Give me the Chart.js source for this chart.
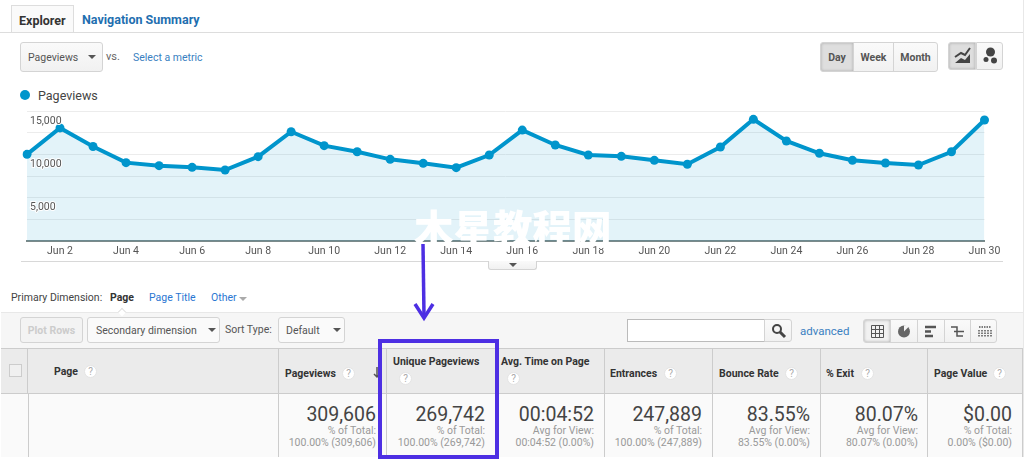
<!DOCTYPE html>
<html>
<head>
<meta charset="utf-8">
<script src="https://cdn.jsdelivr.net/npm/chart.js@4/dist/chart.umd.min.js"></script>
<style>
html, body { margin: 0; padding: 0; background: #fff; }
body { width: 1024px; height: 466px; overflow: hidden; position: relative; font-family: Roboto, Arial, sans-serif; color: #444; }
#page > * { position: absolute; box-sizing: border-box; white-space: nowrap; }
#chart { left: 0; top: 0; }
.link { color: #3a7fc1; }
.tab { font-size: 12.5px; font-weight: 700; }
.btn { background: linear-gradient(#fafafa, #f1f1f1); border: 1px solid #d4d4d4; border-radius: 3px; font-size: 10.5px; color: #555; display: flex; align-items: center; }
.on { background: #dedede; box-shadow: inset 0 0 3px #aaa; }
.caret { display: inline-block; border-left: 4px solid transparent; border-right: 4px solid transparent; border-top: 4px solid #555; }
.head { background: #ebebeb; top: 348px; height: 46px; border: 1px solid #ccc; border-left: 0; }
.body { background: #fafafa; top: 394px; height: 63px; border-right: 1px solid #ccc; }
.th { font-size: 10.5px; font-weight: 700; color: #333; }
.q { width: 13px; height: 13px; border-radius: 50%; background: #fff; border: 1px solid #e4e4e4; color: #aaa; font-size: 10px; text-align: center; line-height: 12px; }
.big { font-size: 19.5px; color: #444; text-align: right; width: 110px; }
.sub { font-size: 10.5px; color: #999; text-align: right; width: 110px; line-height: 12px; }
</style>
</head>
<body>
<div id="page">
  <div class="tab" style="left:11px;top:5px;width:63px;height:28px;border:1px solid #ddd;border-bottom:0;background:#fafafa;padding:7px 0 0 7px;color:#333">Explorer</div>
  <div class="tab" style="left:82px;top:12px;color:#1f6fb0">Navigation Summary</div>
  <div style="left:0;top:32px;width:1023px;height:1px;background:#ddd"></div>
  <div style="left:1023px;top:0;width:1px;height:457px;background:#e8e8e8"></div>

  <div class="btn" style="left:20px;top:42px;width:83px;height:30px;padding-left:7px">Pageviews<span class="caret" style="margin-left:10px"></span></div>
  <div style="left:106px;top:50px;font-size:11px;color:#666">vs.</div>
  <div class="link" style="left:133px;top:51px;font-size:10.5px">Select a metric</div>

  <div class="btn on" style="left:820px;top:42px;width:34px;height:30px;justify-content:center;font-weight:700;border-radius:3px 0 0 3px">Day</div>
  <div class="btn" style="left:853px;top:42px;width:41px;height:30px;justify-content:center;font-weight:700;border-radius:0">Week</div>
  <div class="btn" style="left:893px;top:42px;width:45px;height:30px;justify-content:center;font-weight:700;border-radius:0 3px 3px 0">Month</div>
  <div class="btn on" style="left:948px;top:42px;width:28px;height:28px;border-radius:3px 0 0 3px"></div>
  <div class="btn" style="left:976px;top:42px;width:27px;height:28px;border-radius:0 3px 3px 0"></div>
  <svg style="left:954px;top:47px" width="50" height="20" fill="#444">
    <path d="M1 10 L7 6 L11 8 L16 1" fill="none" stroke="#444" stroke-width="2"/>
    <path d="M1 16 L7 11 L11 13 L16 7 L16 16Z"/>
    <circle cx="32" cy="12.500" r="2.500"/><circle cx="36.500" cy="5" r="4.500"/><circle cx="40" cy="13.500" r="3"/>
  </svg>

  <div style="left:20px;top:90px;width:10px;height:10px;border-radius:50%;background:#0095cc"></div>
  <div style="left:38px;top:88px;font-size:12.500px;color:#444">Pageviews</div>

  <canvas id="chart"></canvas>

  <div style="left:21px;top:261px;width:982px;height:1px;background:#d8d8d8"></div>
  <div class="btn" style="left:488px;top:261px;width:49px;height:9px;justify-content:center;border-top:0;border-radius:0 0 3px 3px"><span class="caret"></span></div>

  <div style="left:11px;top:291px;font-size:10.500px;color:#444">Primary Dimension:</div>
  <div style="left:110px;top:291px;font-size:10.500px;font-weight:700;color:#333">Page</div>
  <div class="link" style="left:149px;top:291px;font-size:10.500px;color:#2a76d2">Page Title</div>
  <div class="link" style="left:211px;top:291px;font-size:10.500px;color:#2a76d2">Other</div>
  <span class="caret" style="left:239px;top:297px;border-top-color:#aaa"></span>

  <div style="left:1px;top:312px;width:1022px;height:36px;background:#f6f6f6;border-top:1px solid #e8e8e8"></div>
  <div style="left:119px;top:309px;width:6px;height:6px;background:#fff;border:1px solid #e0e0e0;border-right:0;border-bottom:0;transform:rotate(45deg)"></div>
  <div class="btn" style="left:20px;top:317px;width:63px;height:26px;justify-content:center;color:#ccc;background:#f3f3f3;font-weight:700">Plot Rows</div>
  <div class="btn" style="left:87px;top:317px;width:133px;height:26px;padding-left:8px;background:#fafafa">Secondary dimension<span class="caret" style="margin-left:11px"></span></div>
  <div style="left:225px;top:323px;font-size:10.500px;color:#555">Sort Type:</div>
  <div class="btn" style="left:278px;top:317px;width:67px;height:26px;padding-left:7px;background:#fafafa">Default<span class="caret" style="margin-left:13px"></span></div>
  <div style="left:627px;top:319px;width:138px;height:23px;background:#fff;border:1px solid #bbb"></div>
  <div class="btn" style="left:764px;top:319px;width:28px;height:23px;border-radius:0 3px 3px 0"></div>
  <svg style="left:771px;top:323px" width="16" height="16" fill="none" stroke="#444" stroke-width="2"><circle cx="6" cy="6" r="4"/><path d="M9 9 L14 14" stroke-width="3"/></svg>
  <div class="link" style="left:800px;top:324px;font-size:11.500px">advanced</div>
  <div class="btn on" style="left:863px;top:319px;width:28px;height:24px;border-radius:3px 0 0 3px;background:#f1f1f1"></div>
  <div class="btn" style="left:890px;top:319px;width:28px;height:24px;border-radius:0"></div>
  <div class="btn" style="left:917px;top:319px;width:28px;height:24px;border-radius:0"></div>
  <div class="btn" style="left:944px;top:319px;width:27px;height:24px;border-radius:0"></div>
  <div class="btn" style="left:970px;top:319px;width:27px;height:24px;border-radius:0 3px 3px 0"></div>
  <svg style="left:863px;top:319px" width="134" height="24" fill="none" stroke="#555">
    <path d="M8.500 6.500h12v12h-12zM12.500 6.500v12M16.500 6.500v12M8.500 10.500h12M8.500 14.500h12"/>
    <circle cx="41" cy="12.500" r="6" fill="#666" stroke="none"/><path d="M41 12.500V6.500h6z" fill="#f5f5f5" stroke="none"/>
    <path d="M62 8h11M62 12.500h6M62 17h8" stroke-width="2.500"/>
    <path d="M88 8h6v9h6M91 12.500h10" stroke-width="1.500"/>
    <path d="M116 8h12M116 11v7M119 11v7M122 11v7M125 11v7M128 11v7" stroke-dasharray="1.500 1" stroke-width="1.500"/>
  </svg>

  <div class="head" style="left:1px;width:27px"></div>
  <div class="head" style="left:28px;width:251px"></div>
  <div class="head" style="left:279px;width:108px"></div>
  <div class="head" style="left:387px;width:109px"></div>
  <div class="head" style="left:496px;width:109px"></div>
  <div class="head" style="left:605px;width:108px"></div>
  <div class="head" style="left:713px;width:108px"></div>
  <div class="head" style="left:821px;width:107px"></div>
  <div class="head" style="left:928px;width:95px"></div>
  <div class="body" style="left:1px;width:28px"></div>
  <div class="body" style="left:29px;width:250px"></div>
  <div class="body" style="left:279px;width:108px"></div>
  <div class="body" style="left:387px;width:109px"></div>
  <div class="body" style="left:496px;width:109px"></div>
  <div class="body" style="left:605px;width:108px"></div>
  <div class="body" style="left:713px;width:108px"></div>
  <div class="body" style="left:821px;width:107px"></div>
  <div class="body" style="left:928px;width:95px"></div>
  <div style="left:9px;top:364px;width:13px;height:13px;background:#f0f0f0;border:1px solid #ccc"></div>

  <div class="th" style="left:54px;top:365px">Page</div><div class="q" style="left:84px;top:365px">?</div>
  <div class="th" style="left:285px;top:367px">Pageviews</div><div class="q" style="left:342px;top:367px">?</div>
  <svg style="left:372px;top:366px" width="10" height="14" fill="none" stroke="#555" stroke-width="1.500"><path d="M5 1v10M2 8l3 3 3-3"/></svg>
  <div class="th" style="left:393px;top:355px">Unique Pageviews</div><div class="q" style="left:399px;top:372px">?</div>
  <div class="th" style="left:501px;top:355px">Avg. Time on Page</div><div class="q" style="left:507px;top:372px">?</div>
  <div class="th" style="left:610px;top:367px">Entrances</div><div class="q" style="left:664px;top:367px">?</div>
  <div class="th" style="left:719px;top:367px">Bounce Rate</div><div class="q" style="left:785px;top:367px">?</div>
  <div class="th" style="left:826px;top:367px">% Exit</div><div class="q" style="left:861px;top:367px">?</div>
  <div class="th" style="left:934px;top:367px">Page Value</div><div class="q" style="left:993px;top:367px">?</div>

  <div class="big" style="left:266px;top:403px">309,606</div>
  <div class="sub" style="left:266px;top:425px">% of Total:<br>100.00% (309,606)</div>
  <div class="big" style="left:375px;top:403px">269,742</div>
  <div class="sub" style="left:375px;top:425px">% of Total:<br>100.00% (269,742)</div>
  <div class="big" style="left:484px;top:403px">00:04:52</div>
  <div class="sub" style="left:484px;top:425px">Avg for View:<br>00:04:52 (0.00%)</div>
  <div class="big" style="left:592px;top:403px">247,889</div>
  <div class="sub" style="left:592px;top:425px">% of Total:<br>100.00% (247,889)</div>
  <div class="big" style="left:700px;top:403px">83.55%</div>
  <div class="sub" style="left:700px;top:425px">Avg for View:<br>83.55% (0.00%)</div>
  <div class="big" style="left:808px;top:403px">80.07%</div>
  <div class="sub" style="left:808px;top:425px">Avg for View:<br>80.07% (0.00%)</div>
  <div class="big" style="left:902px;top:403px">$0.00</div>
  <div class="sub" style="left:902px;top:425px">% of Total:<br>0.00% ($0.00)</div>

  <div style="left:378px;top:339px;width:121px;height:120px;border:4px solid #4d2fe3"></div>
  <svg style="left:410px;top:240px" width="30" height="84" fill="none" stroke="#4d2fe3" stroke-width="3.500">
    <path d="M13 4 L14 76"/><path d="M5 64 L14 78 L23 64"/>
  </svg>
  <div style="left:414px;top:203px;font-family:'Noto Sans CJK SC';font-weight:900;font-size:39.500px;line-height:48px;color:#fff">木星教程网</div>
</div>

<script>
const categories = ['Jun 1', 'Jun 2', 'Jun 3', 'Jun 4', 'Jun 5', 'Jun 6', 'Jun 7', 'Jun 8', 'Jun 9', 'Jun 10',
    'Jun 11', 'Jun 12', 'Jun 13', 'Jun 14', 'Jun 15', 'Jun 16', 'Jun 17', 'Jun 18', 'Jun 19', 'Jun 20',
    'Jun 21', 'Jun 22', 'Jun 23', 'Jun 24', 'Jun 25', 'Jun 26', 'Jun 27', 'Jun 28', 'Jun 29', 'Jun 30'];
const pageviews = [10000, 13050, 10900, 9040, 8690, 8500, 8190, 9730, 12610, 11000,
    10300, 9420, 8960, 8460, 9920, 12800, 11080, 9920, 9770, 9310,
    8850, 10850, 14040, 11540, 10120, 9310, 9000, 8770, 10300, 13960];
const yTickLabels = { 5000: '5,000', 10000: '10,000', 15000: '15,000' };

const canvas = document.getElementById('chart');
canvas.width = 1024;
canvas.height = 266;

new Chart(canvas, {
    type: 'line',
    data: {
        labels: categories,
        datasets: [{
            label: 'Pageviews',
            data: pageviews,
            borderColor: '#0095cc',
            backgroundColor: 'rgba(0,149,204,0.11)',
            borderWidth: 4,
            pointRadius: 4.5,
            pointBackgroundColor: '#0095cc',
            pointBorderWidth: 0,
            tension: 0,
            fill: 'origin',
        }],
    },
    options: {
        responsive: false,
        animation: false,
        layout: { padding: { left: 27, right: 39.5, top: 111, bottom: 0 } },
        plugins: { legend: { display: false }, tooltip: { enabled: false } },
        scales: {
            x: {
                type: 'category',
                offset: false,
                afterFit(scale) { scale.height = 25; },
                grid: { display: false, drawTicks: false },
                border: { color: '#7b8a8a', width: 2 },
                ticks: {
                    autoSkip: false,
                    maxRotation: 0,
                    padding: 4,
                    color: '#555',
                    font: { family: 'Roboto', size: 10.5 },
                    callback(value, index) { return index % 2 === 1 ? categories[index] : ''; },
                },
            },
            y: {
                min: 0,
                max: 15000,
                afterFit(scale) { scale.width = 0; },
                grid: { color: '#ececec', drawTicks: false, lineWidth: 1 },
                border: { display: false },
                ticks: {
                    stepSize: 2500,
                    mirror: true,
                    padding: 3,
                    labelOffset: 10,
                    z: 1,
                    color: '#555',
                    font: { family: 'Roboto', size: 10.5 },
                    textStrokeColor: '#ffffff',
                    textStrokeWidth: 2,
                    callback(value) { return yTickLabels[value] || ''; },
                },
            },
        },
    },
});
</script>
</body>
</html>
